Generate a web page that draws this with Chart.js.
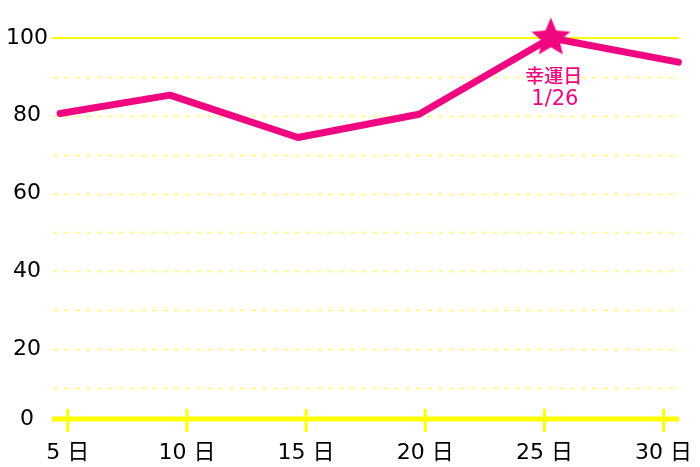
<!DOCTYPE html>
<html>
<head>
<meta charset="utf-8">
<script src="https://cdn.jsdelivr.net/npm/chart.js@4"></script>
<style>
html, body { margin: 0; padding: 0; background: #fff; }
#wrap { width: 700px; height: 467px; }
</style>
</head>
<body>
<div id="wrap"><canvas id="chart"></canvas></div>
<script>
// data
const days = [4.68, 9.29, 14.66, 19.74, 25.27, 30.62];
const scores = [80.6, 85.3, 74.4, 80.4, 100, 93.8];
const xTickValues = [5, 10, 15, 20, 25, 30];
const xTickLabels = ['5 日', '10 日', '15 日', '20 日', '25 日', '30 日'];
const yTickValues = [0, 20, 40, 60, 80, 100];
const yTickLabels = ['0', '20', '40', '60', '80', '100'];
const yGridValues = [10, 20, 30, 40, 50, 60, 70, 80, 90];
const luckyIndex = 4;
const luckyText = ['幸運日', '1/26'];

const PINK = '#ef0680';
const YELLOW = '#ffff00';
const FONT = "'DejaVu Sans', 'Noto Sans CJK JP', sans-serif";
const Y_MIN = 2; // bottom axis sits a little above the 0 of the grid spacing

function makeStar(r, color) {
    const c = document.createElement('canvas');
    c.width = c.height = Math.ceil(r * 2 + 2);
    const g = c.getContext('2d');
    const cx = c.width / 2, cy = c.height / 2;
    g.fillStyle = color;
    g.beginPath();
    for (let i = 0; i < 10; i++) {
        const rad = i % 2 ? r * 0.45 : r;
        const a = -Math.PI / 2 + i * Math.PI / 5;
        g.lineTo(cx + rad * Math.cos(a), cy + rad * Math.sin(a));
    }
    g.closePath();
    g.fill();
    return c;
}
const star = makeStar(20.5, PINK);

// grid lines, axis and tick marks
const decor = {
    id: 'decor',
    beforeDatasetsDraw(chart) {
        const { ctx, chartArea, scales } = chart;
        const { left, right, bottom } = chartArea;
        ctx.save();
        ctx.strokeStyle = '#ffff80';
        ctx.lineWidth = 1.5;
        ctx.setLineDash([5, 6]);
        yGridValues.forEach(v => {
            const py = Math.round(scales.y.getPixelForValue(v)) + 0.5;
            ctx.beginPath();
            ctx.moveTo(left + 1, py);
            ctx.lineTo(right, py);
            ctx.stroke();
        });
        ctx.setLineDash([]);
        ctx.strokeStyle = YELLOW;
        ctx.lineWidth = 2;
        const top = scales.y.getPixelForValue(100);
        ctx.beginPath();
        ctx.moveTo(left, top);
        ctx.lineTo(right - 2, top);
        ctx.stroke();

        ctx.lineWidth = 5;
        ctx.beginPath();
        ctx.moveTo(left, bottom);
        ctx.lineTo(right - 2, bottom);
        ctx.stroke();

        ctx.lineWidth = 3;
        xTickValues.forEach(v => {
            const px = scales.x.getPixelForValue(v);
            ctx.beginPath();
            ctx.moveTo(px, bottom - 10);
            ctx.lineTo(px, bottom + 13);
            ctx.stroke();
        });
        ctx.restore();
    },
    afterDatasetsDraw(chart) {
        const pt = chart.getDatasetMeta(0).data[luckyIndex];
        const ctx = chart.ctx;
        ctx.save();
        ctx.fillStyle = PINK;
        ctx.textAlign = 'center';
        ctx.textBaseline = 'middle';
        ctx.font = "500 19px 'Noto Sans CJK JP', sans-serif";
        ctx.fillText(luckyText[0], pt.x + 3, pt.y + 37.5);
        ctx.font = '21px ' + FONT;
        ctx.fillText(luckyText[1], pt.x + 4, pt.y + 61.5);
        ctx.restore();
    }
};

new Chart(document.getElementById('chart'), {
    type: 'line',
    data: {
        datasets: [{
            data: days.map((d, i) => ({ x: d, y: scores[i] })),
            borderColor: PINK,
            borderWidth: 7,
            borderCapStyle: 'round',
            borderJoinStyle: 'round',
            tension: 0,
            fill: false,
            clip: false,
            pointRadius: c => c.dataIndex === luckyIndex ? 20 : 0,
            pointStyle: c => c.dataIndex === luckyIndex ? star : 'circle',
            pointBackgroundColor: PINK,
            pointBorderWidth: 0
        }]
    },
    options: {
        responsive: true,
        maintainAspectRatio: false,
        animation: false,
        events: [],
        layout: { padding: { top: 38, right: 19, left: 0, bottom: 0 } },
        plugins: { legend: { display: false }, tooltip: { enabled: false } },
        scales: {
            x: {
                type: 'linear',
                min: 4.34,
                max: 30.73,
                grid: { display: false },
                border: { display: false },
                afterBuildTicks: s => { s.ticks = xTickValues.map(v => ({ value: v })); },
                afterFit: s => {
                    s.height = 48;
                    s.paddingLeft = 0;
                    s.paddingRight = 0;
                },
                ticks: {
                    autoSkip: false,
                    maxRotation: 0,
                    padding: 13,
                    color: '#000',
                    font: { family: FONT, size: 22 },
                    callback: (v, i) => xTickLabels[i]
                }
            },
            y: {
                min: Y_MIN,
                max: 100,
                grid: { display: false, drawTicks: false },
                border: { display: false },
                afterBuildTicks: s => {
                    s.ticks = [Y_MIN].concat(yGridValues, [100]).map(v => ({ value: v }));
                },
                afterFit: s => { s.width = 52; },
                ticks: {
                    autoSkip: false,
                    crossAlign: 'center',
                    padding: 4,
                    color: '#000',
                    font: { family: FONT, size: 22 },
                    callback: v => {
                        if (v === Y_MIN) return yTickLabels[0];
                        const i = yTickValues.indexOf(v);
                        return i > 0 ? yTickLabels[i] : '';
                    }
                }
            }
        }
    },
    plugins: [decor]
});
</script>
</body>
</html>
